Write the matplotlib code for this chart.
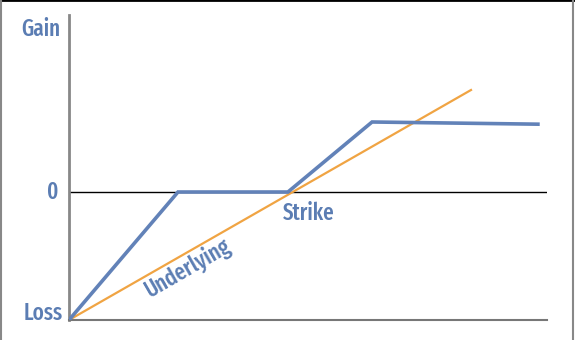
import matplotlib.pyplot as plt
from matplotlib.lines import Line2D

# payoff chart values (x: underlying price scale 0-100, y: loss=-1, 0, gain)
blue_x = [0, 22.8, 45.8, 63.4, 98.1]
blue_y = [-1, 0, 0, 0.547, 0.53]
orange_x = [0, 84.1]
orange_y = [-1, 0.797]

BLUE = "#6282b8"
ORANGE = "#f0a443"
TXT = "#5b7db3"

plt.rcParams['font.family'] = ['Fira Sans Extra Condensed', 'Lato', 'DejaVu Sans']
plt.rcParams['font.weight'] = 'medium'

fig = plt.figure(figsize=(5.75, 3.4), dpi=100)
ax = fig.add_axes([69/575, 20/340, 478/575, 305/340])

ax.plot(blue_x, blue_y, color=BLUE, lw=2.6, solid_joinstyle="miter", zorder=3)
ax.plot(orange_x, orange_y, color=ORANGE, lw=1.6, zorder=2)
ax.axhline(0, color="black", lw=1.0, zorder=1)

ax.set_xlim(0, 100)
ax.set_ylim(-1, 1.383)
ax.set_xticks([])
ax.set_yticks([])
for s in ["top", "right"]:
    ax.spines[s].set_visible(False)
ax.spines["left"].set_color("#888888")
ax.spines["left"].set_linewidth(2)
ax.spines["bottom"].set_color("#777777")
ax.spines["bottom"].set_linewidth(1.5)

# axis labels
ax.text(-1.8, 1.27, "Gain", color=TXT, fontsize=16.5, ha="right", va="center")
ax.text(-2.2, 0, "0", color=TXT, fontsize=16.5, ha="right", va="center")
ax.text(-1.4, -0.95, "Loss", color=TXT, fontsize=16.5, ha="right", va="center")
ax.text(50.1, -0.164, "Strike", color=TXT, fontsize=16.5, ha="center", va="center")
ax.text(24.9, -0.594, "Underlying", color=TXT, fontsize=16.5, ha="center", va="center",
        rotation=30, rotation_mode="anchor")

# image frame
fig.add_artist(Line2D([0, 1], [0.999, 0.999], transform=fig.transFigure, color="black", lw=2))
fig.add_artist(Line2D([0.001, 0.001], [0, 1], transform=fig.transFigure, color="#888888", lw=1.5))
fig.add_artist(Line2D([0.9965, 0.9965], [0, 1], transform=fig.transFigure, color="#888888", lw=1.5))

fig.savefig("out.png", dpi=100)
